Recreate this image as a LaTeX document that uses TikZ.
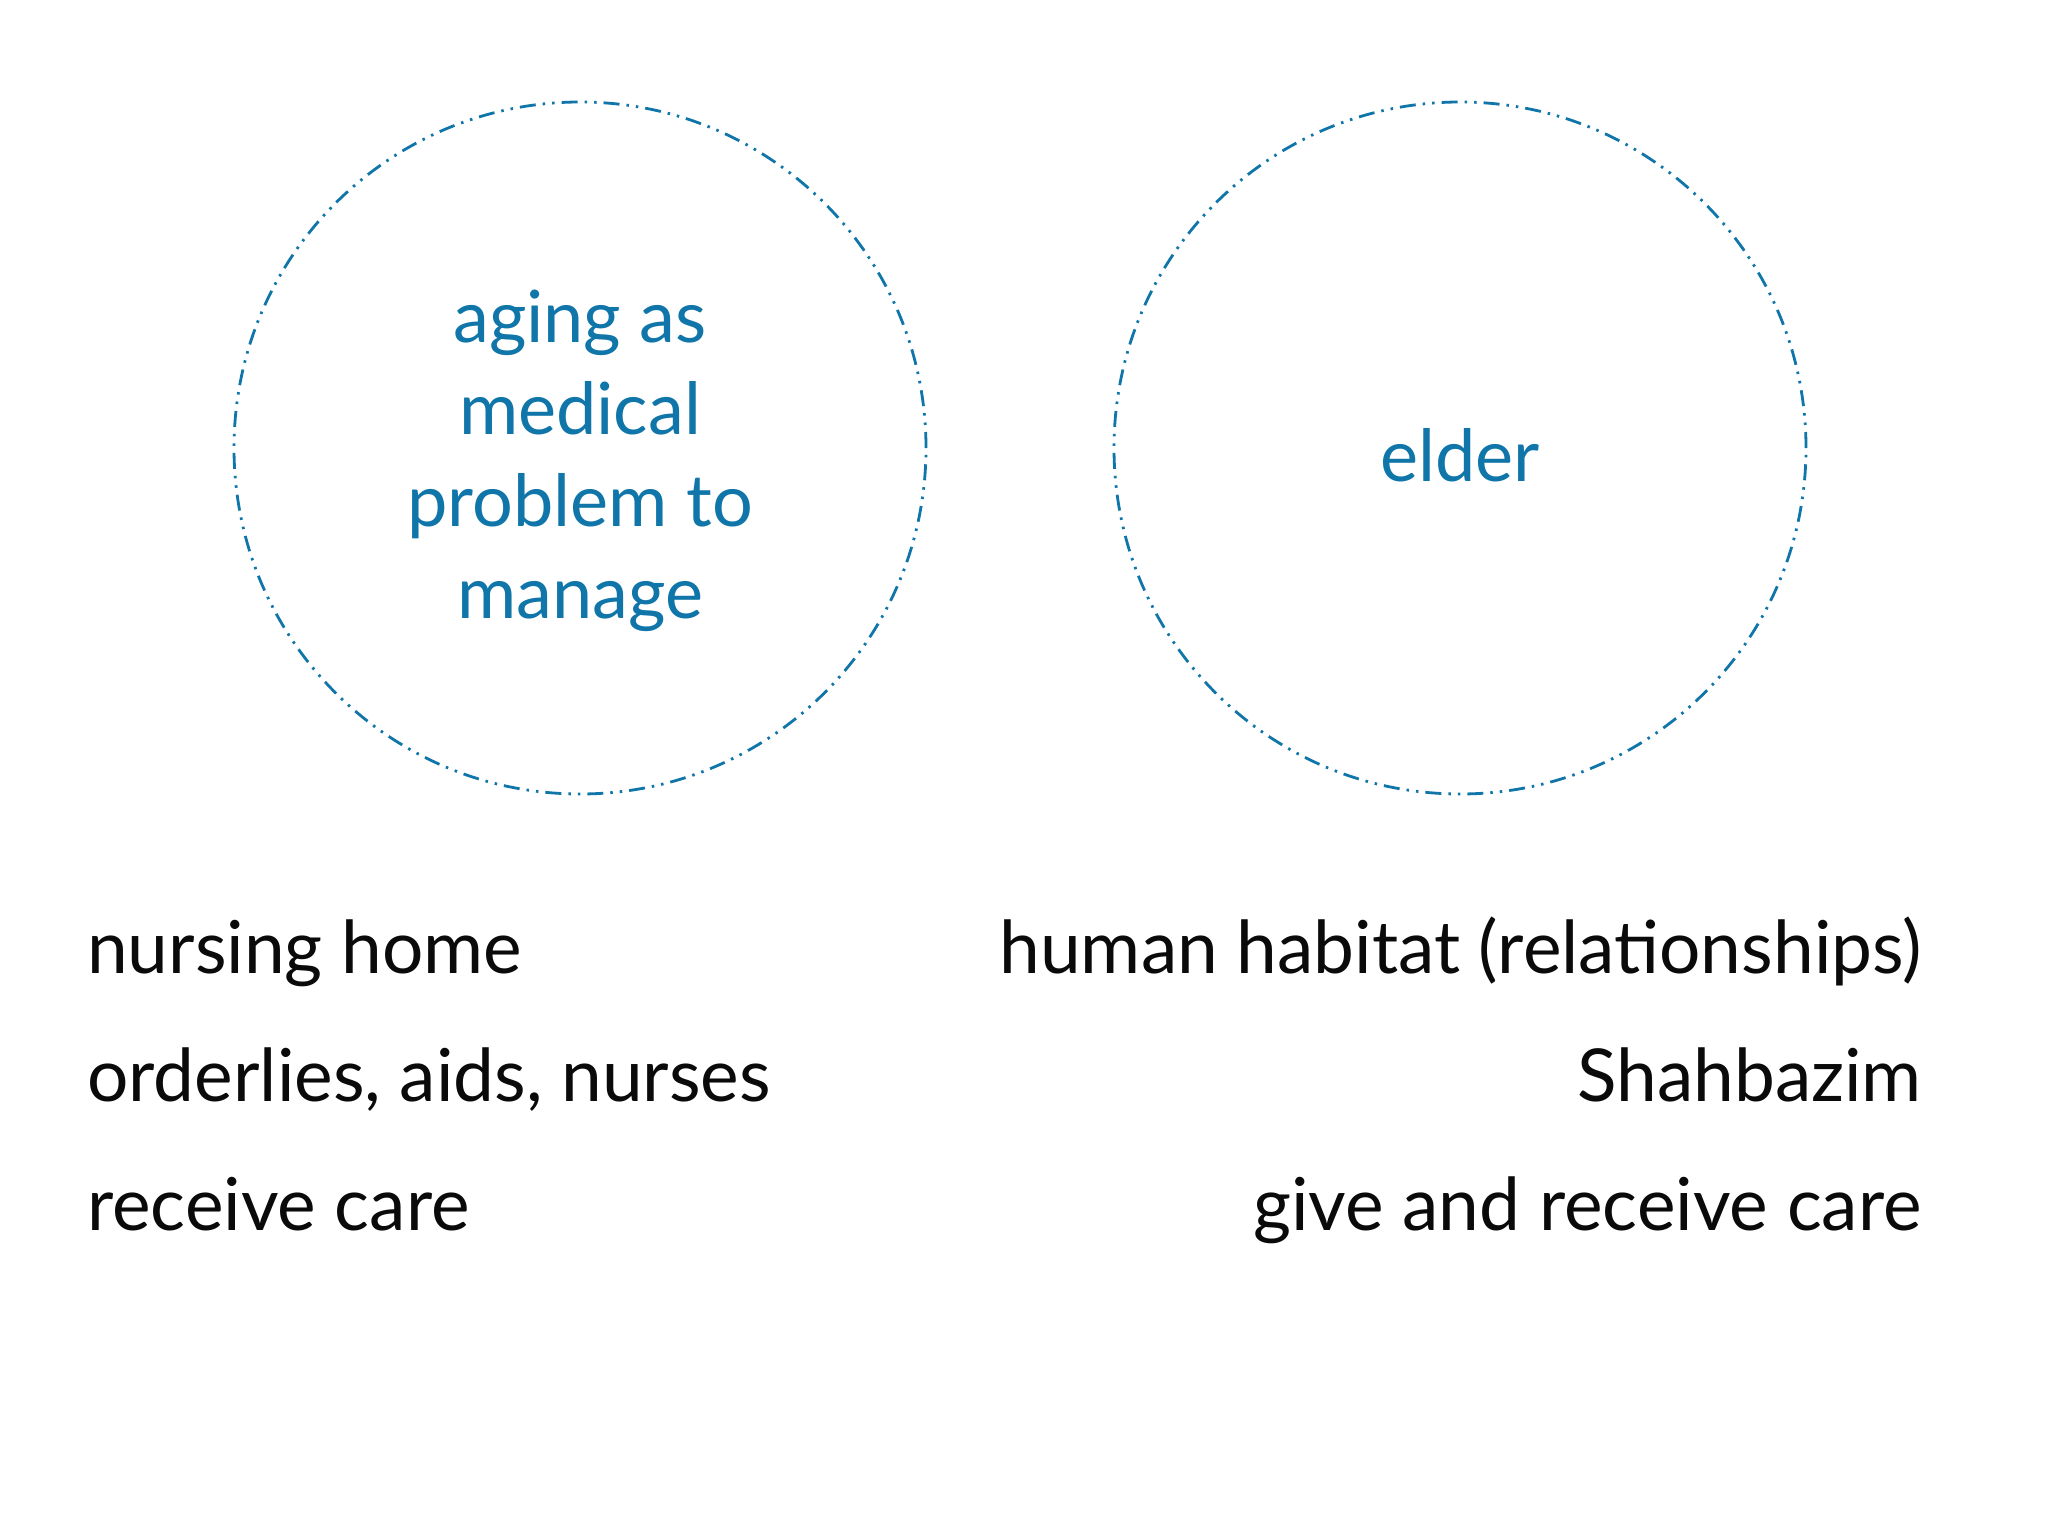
\documentclass[tikz,border=0pt]{standalone}
\usepackage{fontspec}
\setmainfont{Lato}
\definecolor{accent}{RGB}{16,117,168}
\definecolor{ink}{RGB}{10,10,10}
\tikzset{
  ring/.style={circle, draw=accent, line width=2.8pt, minimum size=692pt, inner sep=0pt,
    dash pattern=on 16pt off 7pt on 2.5pt off 7pt on 2.5pt off 7pt},
  bluetext/.style={text=accent, font=\fontsize{72}{92}\selectfont, align=center, inner sep=0pt},
  lefttext/.style={text=ink, font=\fontsize{73}{92}\selectfont, anchor=base west, inner sep=0pt},
  righttext/.style={text=ink, font=\fontsize{73}{92}\selectfont, anchor=base east, inner sep=0pt}
}
\begin{document}
\begin{tikzpicture}[x=1pt,y=-1pt]
\useasboundingbox (0,0) rectangle (2048,1536);
\fill[white] (0,0) rectangle (2048,1536);
\node[ring] (c1) at (580,448) {};
\node[ring] (c2) at (1460,448) {};
\node[bluetext, anchor=base] (t1) at (580,618) {aging as\\medical\\problem to\\manage};
\node[bluetext, anchor=base] (t2) at (1460,481) {elder};
\node[lefttext] (l1) at (87,973) {nursing home};
\node[lefttext] (l2) at (87,1101) {orderlies, aids, nurses};
\node[lefttext] (l3) at (87,1230) {receive care};
\node[righttext] (r1) at (1922,973) {human habitat (relationships)};
\node[righttext] (r2) at (1922,1101) {Shahbazim};
\node[righttext] (r3) at (1922,1230) {give and receive care};
\end{tikzpicture}
\end{document}
